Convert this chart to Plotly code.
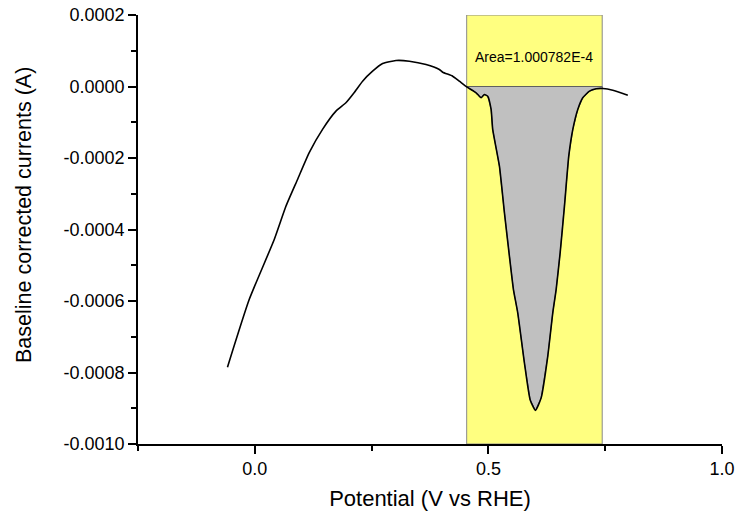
import numpy as np
import plotly.graph_objects as go

# ---- data ----
potential = [-0.0585, -0.012, 0.0416, 0.0666, 0.0915, 0.1165, 0.145, 0.1737, 0.195,
             0.2125, 0.2307, 0.2521, 0.2736, 0.3023, 0.3308, 0.3665, 0.395, 0.4022,
             0.4235, 0.4378, 0.4535, 0.4737, 0.4844, 0.4914, 0.4985, 0.5058, 0.5092,
             0.5236, 0.5343, 0.545, 0.5536, 0.5628, 0.5771, 0.5893, 0.6007, 0.6129,
             0.6271, 0.6378, 0.645, 0.6536, 0.6628, 0.672, 0.6807, 0.6913, 0.702,
             0.7164, 0.7307, 0.745, 0.7663, 0.7984]
current = [-0.000785, -0.000596, -0.000428, -0.000335, -0.000260, -0.000185, -0.000120,
           -0.000069, -0.0000456, -0.0000176, 0.0000148, 0.0000428, 0.0000643, 0.0000727,
           0.0000708, 0.0000615, 0.0000476, 0.0000400, 0.0000288, 0.0000148, -0.000001,
           -0.0000176, -0.0000316, -0.0000224, -0.0000271, -0.0000643, -0.000120,
           -0.000223, -0.000353, -0.000475, -0.000568, -0.000633, -0.000773, -0.000876,
           -0.000906, -0.000871, -0.000754, -0.000633, -0.000568, -0.000465, -0.000335,
           -0.000195, -0.000120, -0.0000643, -0.0000316, -0.0000131, -0.0000064,
           -0.0000056, -0.0000103, -0.0000243]

integration_limits = [0.4535, 0.7436]
area_label = "Area=1.000782E-4"

x_tickvals = [0.0, 0.5, 1.0]
x_ticktext = ["0.0", "0.5", "1.0"]
y_tickvals = [0.0002, 0.0, -0.0002, -0.0004, -0.0006, -0.0008, -0.0010]
y_ticktext = ["0.0002", "0.0000", "-0.0002", "-0.0004", "-0.0006", "-0.0008", "-0.0010"]

x_title = "Potential (V vs RHE)"
y_title = "Baseline corrected currents (A)"

# ---- build figure ----
W, H = 737, 519
ML, MR, MT, MB = 138, 15, 15, 75
PW, PH = W - ML - MR, H - MT - MB

xa = np.array(potential)
ya = np.array(current)
x0, x1 = integration_limits
mask = (xa > x0) & (xa < x1)
poly_x = np.concatenate([[x0], xa[mask], [x1], [x1, x0]])
poly_y = np.concatenate([[np.interp(x0, xa, ya)], ya[mask], [np.interp(x1, xa, ya)], [0.0, 0.0]])

fig = go.Figure()
fig.add_trace(go.Scatter(x=poly_x, y=poly_y, mode="lines", fill="toself",
                         fillcolor="#C0C0C0", line=dict(color="#606060", width=1),
                         hoverinfo="skip", showlegend=False))
fig.add_trace(go.Scatter(x=potential, y=current, mode="lines",
                         line=dict(color="black", width=1.6, shape="spline", smoothing=0.5),
                         showlegend=False))

fig.add_shape(type="rect", x0=x0, x1=x1, y0=-0.0010, y1=0.0002, xref="x", yref="y",
              fillcolor="#FFFF80", line=dict(color="#8a8a8a", width=1), layer="below")

fig.add_annotation(x=(x0 + x1) / 2, y=0.0000831, text=area_label, showarrow=False,
                   font=dict(family="Liberation Sans, Arial", size=14, color="black"),
                   xref="x", yref="y")

# y-axis title as annotation (positioned like the reference)
fig.add_annotation(x=(24 - ML) / PW, y=(H - MB - 215) / PH, xref="paper", yref="paper",
                   text=y_title, textangle=-90, showarrow=False,
                   xanchor="center", yanchor="middle",
                   font=dict(family="Liberation Sans, Arial", size=21.5, color="black"))

axis_common = dict(showline=True, linecolor="black", linewidth=1.5, ticks="outside",
                   tickcolor="black", tickwidth=1.5, ticklen=8, showgrid=False,
                   zeroline=False, mirror=False, automargin=False,
                   tickfont=dict(family="Liberation Sans, Arial", size=18, color="black"))

fig.update_xaxes(range=[-0.25, 1.0], tickvals=x_tickvals, ticktext=x_ticktext,
                 title=dict(text=x_title, standoff=12,
                            font=dict(family="Liberation Sans, Arial", size=22, color="black")),
                 minor=dict(ticks="outside", ticklen=5, tickwidth=1.5, tickcolor="black",
                            dtick=0.25, tick0=0, showgrid=False),
                 **axis_common)
fig.update_yaxes(range=[-0.0010, 0.0002], tickvals=y_tickvals, ticktext=y_ticktext,
                 minor=dict(ticks="outside", ticklen=5, tickwidth=1.5, tickcolor="black",
                            dtick=0.0001, tick0=0, showgrid=False),
                 **axis_common)

fig.update_layout(width=W, height=H, margin=dict(l=ML, r=MR, t=MT, b=MB),
                  plot_bgcolor="white", paper_bgcolor="white")

fig.write_html("out.html")
